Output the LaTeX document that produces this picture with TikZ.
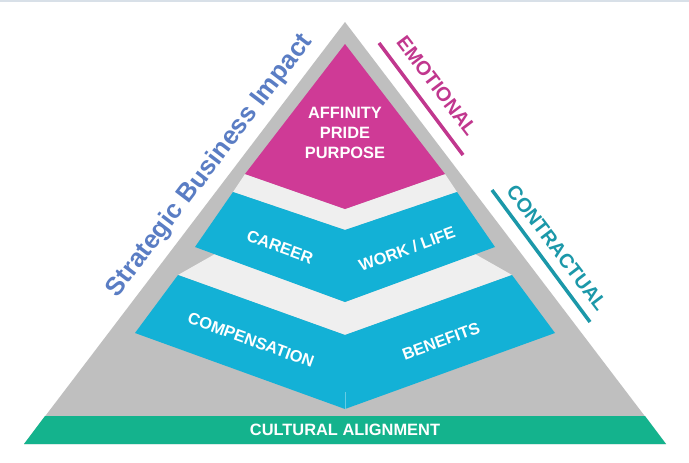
\documentclass[tikz,border=0pt]{standalone}
\usepackage{fontspec}
\setmainfont{Liberation Sans}
\definecolor{tri}{HTML}{BFBFBF}
\definecolor{lite}{HTML}{EFEFEF}
\definecolor{mag}{HTML}{CF3A96}
\definecolor{cyn}{HTML}{13B1D6}
\definecolor{grn}{HTML}{14B38D}
\definecolor{sbi}{HTML}{5A7DC4}
\definecolor{emo}{HTML}{C1378E}
\definecolor{con}{HTML}{1B98A9}
\definecolor{topln}{HTML}{D8E0E8}
\tikzset{
  lbl/.style={text=white, font=\bfseries\fontsize{16.4}{20}\selectfont, inner sep=0pt},
  sidelbl/.style={font=\bfseries\fontsize{19.8}{22}\selectfont, inner sep=0pt},
  emoline/.style={draw=emo, line width=3.5pt},
  conline/.style={draw=con, line width=3.5pt}
}
\begin{document}
\begin{tikzpicture}[x=1pt,y=-1pt]
\useasboundingbox (0,0) rectangle (689,463);
\fill[white] (0,0) rectangle (689,463);
\fill[topln] (0,0) rectangle (689,1.5);
% pyramid body
\fill[tri] (345,22) -- (666,444) -- (24,444) -- cycle;
% light step surfaces
\fill[lite] (245,174) -- (345,209) -- (445,174) -- (457,192) -- (345,230) -- (233,192) -- cycle;
\fill[lite] (215,254) -- (345,302) -- (475,254) -- (512,275) -- (345,335) -- (178,275) -- cycle;
% coloured tiers
\fill[mag] (345,44) -- (445,174) -- (345,209) -- (245,174) -- cycle;
\fill[cyn] (233,192) -- (345,230) -- (457,192) -- (495,247) -- (345,302) -- (195,247) -- cycle;
\fill[cyn] (178,275) -- (345,335) -- (512,275) -- (555,333) -- (345,409) -- (135,333) -- cycle;
\draw[white, opacity=0.35, line width=0.6pt] (345,392) -- (345,409);
% base band
\fill[grn] (45,416) -- (645,416) -- (666,444) -- (24,444) -- cycle;
% labels
\node[lbl, align=center] (top) at (345,133) {AFFINITY\\PRIDE\\PURPOSE};
\node[lbl, rotate=-20] (career) at (280,247) {CAREER};
\node[lbl, rotate=20] (work) at (407,249) {WORK / LIFE};
\node[lbl, rotate=-20] (comp) at (251,340) {COMPENSATION};
\node[lbl, rotate=20] (ben) at (441,341) {BENEFITS};
\node[lbl] (cult) at (345,430) {CULTURAL ALIGNMENT};
\node[font=\bfseries\fontsize{25.8}{28}\selectfont, text=sbi, rotate=52.7, inner sep=0pt] (sbi) at (210,166) {Strategic Business Impact};
\node[sidelbl, text=emo, rotate=-52.7] (emo) at (437,86) {EMOTIONAL};
\node[sidelbl, text=con, rotate=-52.7] (con) at (557,248) {CONTRACTUAL};
\coordinate (emoA) at (379,43);
\coordinate (emoB) at (463,155);
\coordinate (conA) at (492,190);
\coordinate (conB) at (590,322);
\draw[emoline] (emoA) -- (emoB);
\draw[conline] (conA) -- (conB);
\end{tikzpicture}
\end{document}
